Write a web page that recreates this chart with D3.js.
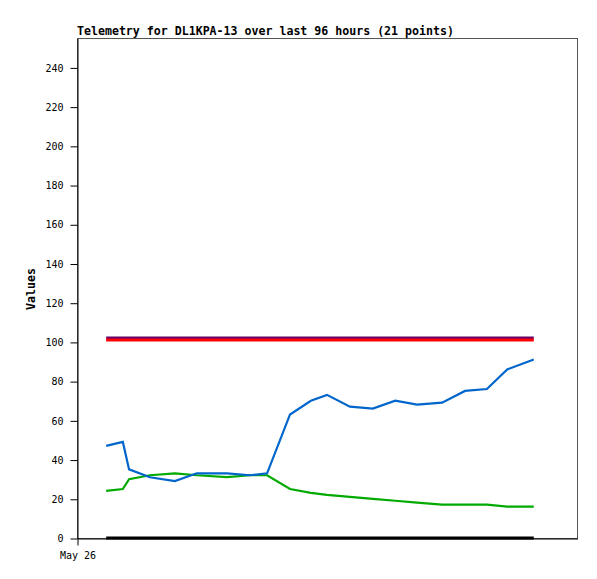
<!DOCTYPE html>
<html><head><meta charset="utf-8">
<script src="https://cdn.jsdelivr.net/npm/d3@7"></script>
<style>body{margin:0;background:#fff}svg{display:block}</style>
</head><body>
<svg id="c" width="597" height="579"></svg>
<script>
const title = "Telemetry for DL1KPA-13 over last 96 hours (21 points)";
const yLabel = "Values";
const xTickLabels = ["May 26"];
const hours = [5.6, 8.8, 10.0, 14.0, 18.8, 23.0, 28.8, 33.2, 36.5, 40.9, 44.9, 48.0, 52.4, 56.8, 61.1, 65.3, 70.1, 74.5, 78.7, 82.6, 87.7];
const blue   = [47, 49, 35, 31, 29, 33, 33, 32, 33, 63, 70, 73, 67, 66, 70, 68, 69, 75, 76, 86, 91];
const green  = [24, 25, 30, 32, 33, 32, 31, 32, 32, 25, 23, 22, 21, 20, 19, 18, 17, 17, 17, 16, 16];
const purple = [102,102,102,102,102,102,102,102,102,102,102,102,102,102,102,102,102,102,102,102,102];
const red    = [101,101,101,101,101,101,101,101,101,101,101,101,101,101,101,101,101,101,101,101,101];
const black  = [0,0,0,0,0,0,0,0,0,0,0,0,0,0,0,0,0,0,0,0,0];
const yTicks = [0,20,40,60,80,100,120,140,160,180,200,220,240];

const L=77, R=577, T=38, B=538;
const svg = d3.select("#c");
const x = d3.scaleLinear().domain([0,96]).range([L,R]);
const y = d3.scaleLinear().domain([0,255]).range([B,T]);
const mono = "'DejaVu Sans Mono', 'Liberation Mono', monospace";

// frame
svg.append("rect").attr("x",L+0.5).attr("y",T+0.5).attr("width",R-L).attr("height",B-T)
  .attr("fill","none").attr("stroke","#555").attr("stroke-width",1);

// title
svg.append("text").attr("x",L).attr("y",35).attr("font-family",mono).attr("font-size",11.6)
  .attr("font-weight","bold").attr("fill","#000").text(title);

// y label
svg.append("text").attr("transform","translate(35,289) rotate(-90)").attr("text-anchor","middle")
  .attr("font-family",mono).attr("font-size",11.6).attr("font-weight","bold").text(yLabel);

// series
const series = [
  {v:purple, c:"#6a006a", w:3},
  {v:red, c:"#ff0000", w:3},
  {v:black, c:"#000000", w:3},
  {v:green, c:"#00aa00", w:2.2},
  {v:blue, c:"#0066cc", w:2.2}
];
const line = d3.line().x((d,i)=>x(hours[i])).y(d=>y(d));
series.forEach(s=>{
  svg.append("path").datum(s.v).attr("d",line).attr("fill","none")
    .attr("stroke",s.c).attr("stroke-width",s.w).attr("stroke-linejoin","miter").attr("stroke-linecap","butt");
});

// y axis
const yAxis = d3.axisLeft(y).tickValues(yTicks).tickSize(7).tickSizeOuter(0).tickPadding(7).tickFormat(d3.format("d"));
const gy = svg.append("g").attr("transform",`translate(${L+0.5},0.5)`).call(yAxis);
gy.select(".domain").attr("stroke","#000");
gy.selectAll(".tick line").attr("stroke","#000");
gy.selectAll("text").attr("font-family",mono).attr("font-size",10).attr("fill","#000");

// x axis
const xAxis = d3.axisBottom(x).tickValues([0]).tickSize(7).tickSizeOuter(0).tickPadding(6).tickFormat((d,i)=>xTickLabels[i]);
const gx = svg.append("g").attr("transform",`translate(0.5,${B+0.5})`).call(xAxis);
gx.select(".domain").attr("stroke","#000");
gx.selectAll(".tick line").attr("stroke","#000");
gx.selectAll("text").attr("font-family",mono).attr("font-size",10).attr("fill","#000");
</script>
</body></html>
